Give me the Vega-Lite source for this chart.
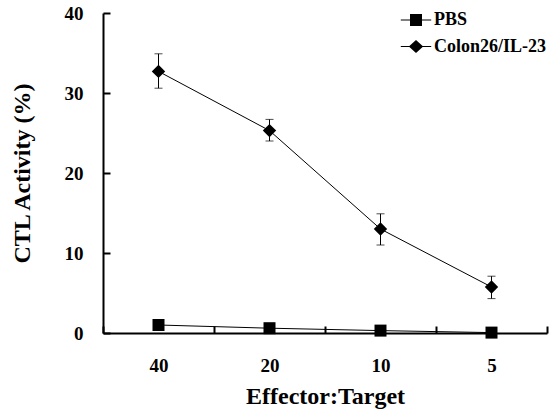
{
  "$schema": "https://vega.github.io/schema/vega-lite/v6.json",
  "autosize": "none",
  "width": 444,
  "height": 320,
  "padding": {"left": 103, "top": 13, "right": 12, "bottom": 78},
  "background": "white",
  "config": {
    "view": {"stroke": null},
    "font": "Liberation Serif",
    "axis": {
      "domainColor": "black", "domainWidth": 2, "tickColor": "black", "tickWidth": 2,
      "labelColor": "black", "titleColor": "black", "labelFont": "Liberation Serif",
      "titleFont": "Liberation Serif", "labelFontWeight": "bold", "titleFontWeight": "bold",
      "labelFontSize": 19, "titleFontSize": 24, "grid": false
    },
    "legend": {"labelFont": "Liberation Serif", "labelFontWeight": "bold", "labelFontSize": 18, "labelColor": "black"}
  },
  "data": {"values": [
    {"et": "40", "series": "PBS", "v": 1.0},
    {"et": "20", "series": "PBS", "v": 0.6},
    {"et": "10", "series": "PBS", "v": 0.3},
    {"et": "5", "series": "PBS", "v": 0.05},
    {"et": "40", "series": "Colon26/IL-23", "v": 32.7, "lo": 30.6, "hi": 34.9},
    {"et": "20", "series": "Colon26/IL-23", "v": 25.3, "lo": 24.0, "hi": 26.7},
    {"et": "10", "series": "Colon26/IL-23", "v": 13.0, "lo": 11.0, "hi": 14.9},
    {"et": "5", "series": "Colon26/IL-23", "v": 5.75, "lo": 4.3, "hi": 7.1}
  ]},
  "encoding": {
    "x": {"field": "et", "type": "ordinal", "sort": ["40", "20", "10", "5"],
      "scale": {"paddingInner": 0, "paddingOuter": 0},
      "axis": {"title": "Effector:Target", "labelAngle": 0, "tickBand": "extent", "tickSize": -7, "labelPadding": 30, "titlePadding": 9}},
    "y": {"field": "v", "type": "quantitative",
      "scale": {"domain": [0, 40], "nice": false, "zero": true},
      "axis": {"title": "CTL Activity (%)", "values": [0, 10, 20, 30, 40], "tickSize": -7, "labelPadding": 27, "titlePadding": 30}}
  },
  "layer": [
    {
      "mark": {"type": "rule", "color": "black", "strokeWidth": 1},
      "transform": [{"filter": "isValid(datum.lo)"}],
      "encoding": {"y": {"field": "lo", "type": "quantitative"}, "y2": {"field": "hi"}}
    },
    {
      "mark": {"type": "tick", "color": "black", "thickness": 1, "size": 8},
      "transform": [{"filter": "isValid(datum.lo)"}],
      "encoding": {"y": {"field": "lo", "type": "quantitative"}}
    },
    {
      "mark": {"type": "tick", "color": "black", "thickness": 1, "size": 8},
      "transform": [{"filter": "isValid(datum.hi)"}],
      "encoding": {"y": {"field": "hi", "type": "quantitative"}}
    },
    {
      "mark": {"type": "line", "color": "black", "strokeWidth": 1},
      "encoding": {"detail": {"field": "series"}}
    },
    {
      "mark": {"type": "point", "filled": true, "color": "black", "opacity": 1, "size": 144, "shape": "square"},
      "transform": [{"filter": "datum.series === 'PBS'"}],
      "encoding": {}
    },
    {
      "mark": {"type": "point", "filled": true, "color": "black", "opacity": 1, "size": 180, "shape": "diamond"},
      "transform": [{"filter": "datum.series !== 'PBS'"}],
      "encoding": {}
    },
    {
      "mark": {"type": "point", "filled": true, "color": "black", "size": 0},
      "encoding": {
        "shape": {"field": "series", "type": "nominal", "sort": ["PBS", "Colon26/IL-23"],
          "scale": {"domain": ["PBS", "Colon26/IL-23"], "range": ["M-1.9,-0.07L1.9,-0.07L1.9,0.07L-1.9,0.07ZM-0.75,-0.75L0.75,-0.75L0.75,0.75L-0.75,0.75Z", "M-1.9,-0.07L1.9,-0.07L1.9,0.07L-1.9,0.07ZM-0.9,0L0,-0.82L0.9,0L0,0.82Z"]},
          "legend": {"title": null, "orient": "none", "legendX": 304, "legendY": -2,
            "symbolSize": 256, "symbolFillColor": "black", "symbolStrokeColor": "black", "symbolStrokeWidth": 0, "symbolOpacity": 1,
            "labelOffset": 9, "rowPadding": 8.5}}
      }
    }
  ]
}
